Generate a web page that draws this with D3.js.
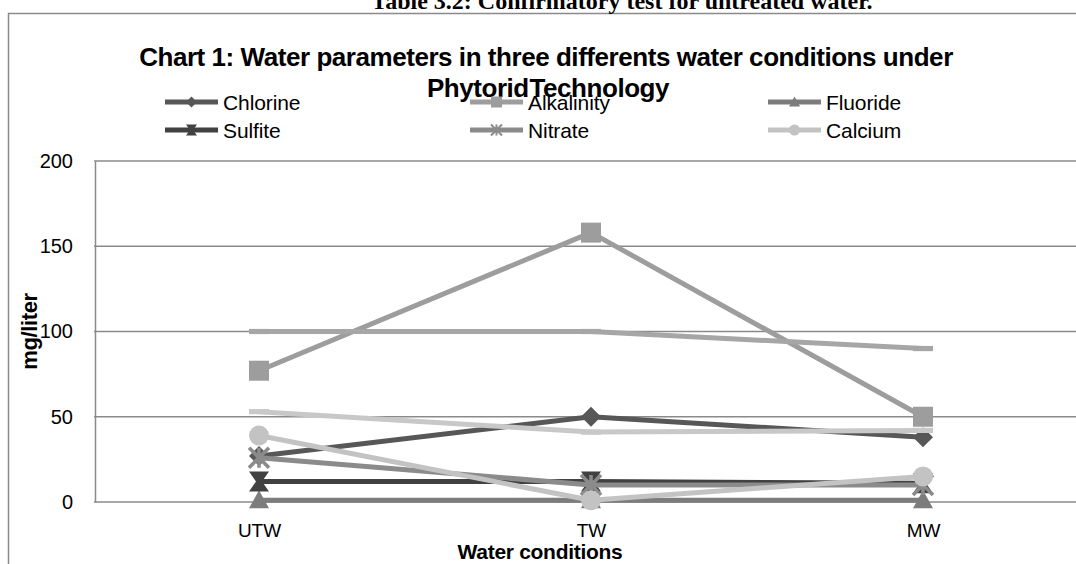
<!DOCTYPE html>
<html>
<head>
<meta charset="utf-8">
<script src="https://cdn.jsdelivr.net/npm/d3@7"></script>
<style>
  body { margin: 0; background: #fff; }
  svg { display: block; }
  text { font-family: "Liberation Sans", Arial, sans-serif; fill: #000; }
</style>
</head>
<body>
<svg id="chart" width="1076" height="564"></svg>
<script>
// ---- data (mg/liter) ----
const categories = ["UTW", "TW", "MW"];
const chlorine   = [27, 50, 38];
const alkalinity = [77, 158, 50];
const fluoride   = [1, 1, 1];
const sulfite    = [12, 12, 11];
const nitrate    = [26, 10, 10];
const calcium    = [39, 1, 15];
const seriesSeven = [100, 100, 90];
const seriesEight = [53, 41, 42];
const yTicks = [0, 50, 100, 150, 200];
const legendNames = ["Chlorine", "Alkalinity", "Fluoride", "Sulfite", "Nitrate", "Calcium"];

const headingText = "Table 3.2:  Confirmatory test for untreated water.";
const titleLines = ["Chart 1: Water parameters in three differents water conditions under", "Phytorid Technology"];
const yTitle = "mg/liter";
const xTitle = "Water conditions";

// ---- series table ----
const series = [
  { name: legendNames[0], values: chlorine,    color: "#575757", marker: "diamond" },
  { name: legendNames[1], values: alkalinity,  color: "#9d9d9d", marker: "square" },
  { name: legendNames[2], values: fluoride,    color: "#7c7c7c", marker: "triangle" },
  { name: legendNames[3], values: sulfite,     color: "#414141", marker: "hourglass" },
  { name: legendNames[4], values: nitrate,     color: "#8b8b8b", marker: "star" },
  { name: legendNames[5], values: calcium,     color: "#c3c3c3", marker: "circle" },
  { name: null,           values: seriesSeven, color: "#a6a6a6", marker: "dash" },
  { name: null,           values: seriesEight, color: "#c8c8c8", marker: "dash" }
];

const svg = d3.select("#chart");

// ---- scales ----
const x = d3.scalePoint().domain(categories).range([93, 1089]).padding(0.5);
const y = d3.scaleLinear().domain([0, 200]).range([502, 161]);

// ---- outer frame ----
svg.append("rect")
  .attr("x", 8.5).attr("y", 13.5)
  .attr("width", 1100).attr("height", 600)
  .attr("fill", "none").attr("stroke", "#8a8a8a").attr("stroke-width", 1.5);

// heading above the frame (cut by the page top)
svg.append("text")
  .attr("x", 622).attr("y", 9)
  .attr("text-anchor", "middle")
  .style("font-family", "'Liberation Serif', 'Times New Roman', serif")
  .style("font-weight", "bold")
  .style("font-size", "24px")
  .text(headingText);

// ---- gridlines + y axis ----
const yAxis = d3.axisLeft(y).tickValues(yTicks).tickSize(0).tickPadding(22);
const gy = svg.append("g").attr("transform", "translate(95,0)").call(yAxis);
gy.select(".domain").attr("stroke", "#8a8a8a").attr("stroke-width", 1.5);
gy.selectAll(".tick text").style("font-size", "20px").attr("fill", "#000");

svg.append("g").selectAll("line").data(yTicks).join("line")
  .attr("x1", 94).attr("x2", 1076)
  .attr("y1", d => y(d)).attr("y2", d => y(d))
  .attr("stroke", "#8a8a8a").attr("stroke-width", 1.6);

// ---- x axis labels ----
const xAxis = d3.axisBottom(x).tickSize(0).tickPadding(22);
const gx = svg.append("g").attr("transform", `translate(0,${y(0)})`).call(xAxis);
gx.select(".domain").remove();
gx.selectAll(".tick text").style("font-size", "19px").attr("fill", "#000");

// ---- axis titles ----
svg.append("text")
  .attr("transform", `translate(37,${(y(0) + y(200)) / 2}) rotate(-90)`)
  .attr("text-anchor", "middle")
  .style("font-weight", "bold").style("font-size", "22px")
  .style("letter-spacing", "-0.4px")
  .text(yTitle);

svg.append("text")
  .attr("x", 540).attr("y", 559)
  .attr("text-anchor", "middle")
  .style("font-weight", "bold").style("font-size", "21px")
  .style("letter-spacing", "-0.3px")
  .text(xTitle);

// ---- marker shapes ----
function markerPath(type, s) {
  const h = s / 2;
  switch (type) {
    case "diamond":  return `M0,${-h}L${h},0L0,${h}L${-h},0Z`;
    case "square":   return `M${-h},${-h}H${h}V${h}H${-h}Z`;
    case "triangle": return `M0,${-h}L${h},${h * 0.8}H${-h}Z`;
    case "hourglass":return `M${-h},${-h}H${h}L${h * 0.3},0L${h},${h}H${-h}L${-h * 0.3},0Z`;
    case "dash":     return `M${-h},${-s * 0.13}H${h}V${s * 0.13}H${-h}Z`;
    default: return "";
  }
}

function drawMarker(g, type, color, s) {
  if (type === "circle") {
    g.append("circle").attr("r", s / 2).attr("fill", color);
  } else if (type === "star") {
    const h = s / 2;
    g.append("path")
      .attr("d", `M${-h},${-h}L${h},${h}M${h},${-h}L${-h},${h}M0,${-h}V${h}`)
      .attr("stroke", color).attr("stroke-width", s * 0.18).attr("fill", "none");
  } else {
    g.append("path").attr("d", markerPath(type, s)).attr("fill", color);
  }
}

// ---- series lines and markers ----
const line = d3.line().x((d, i) => x(categories[i])).y(d => y(d));
const plot = svg.append("g");
series.forEach(s => {
  const g = plot.append("g");
  g.append("path")
    .attr("d", line(s.values))
    .attr("fill", "none")
    .attr("stroke", s.color)
    .attr("stroke-width", 5)
    .attr("stroke-linejoin", "round");
  s.values.forEach((v, i) => {
    const m = g.append("g").attr("transform", `translate(${x(categories[i])},${y(v)})`);
    drawMarker(m, s.marker, s.color, 20);
  });
});

// ---- title ----
svg.append("text")
  .attr("x", 546).attr("y", 66)
  .attr("text-anchor", "middle")
  .style("font-weight", "bold").style("font-size", "26px")
  .style("letter-spacing", "-0.45px")
  .text(titleLines[0]);
svg.append("text")
  .attr("x", 548).attr("y", 97)
  .attr("text-anchor", "middle")
  .style("font-weight", "bold").style("font-size", "26px")
  .style("letter-spacing", "-0.45px").style("word-spacing", "-6px")
  .text(titleLines[1]);

// ---- legend ----
const legendCols = [165, 470, 768];
const legendRows = [102, 130];
const legendItems = series.filter(s => s.name);
const lg = svg.append("g");
legendItems.forEach((s, i) => {
  const cx = legendCols[i % 3];
  const cy = legendRows[Math.floor(i / 3)];
  const item = lg.append("g").attr("transform", `translate(${cx},${cy})`);
  item.append("line")
    .attr("x1", 0).attr("x2", 53)
    .attr("stroke", s.color).attr("stroke-width", 5);
  const m = item.append("g").attr("transform", "translate(26.5,0)");
  drawMarker(m, s.marker, s.color, 11);
  item.append("text")
    .attr("x", 58).attr("y", 7.5)
    .style("font-size", "21px")
    .style("letter-spacing", "-0.1px")
    .text(s.name);
});
</script>
</body>
</html>
